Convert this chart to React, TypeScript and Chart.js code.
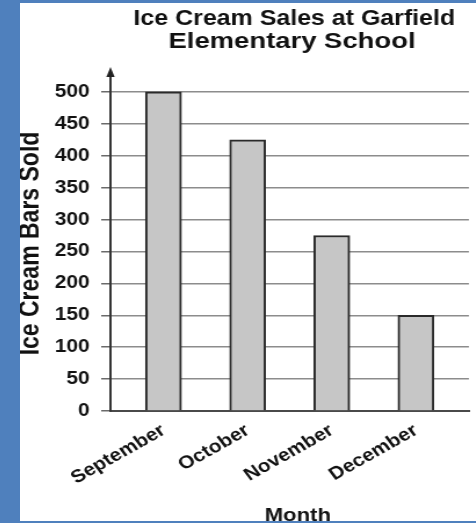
import React, { useEffect, useRef } from "react";
import { Chart, registerables } from "chart.js";

Chart.register(...registerables);

const TITLE_LINES = ["Ice Cream Sales at Garfield", "Elementary School"];
const MONTHS = ["September", "October", "November", "December"];
const SALES = [500, 425, 275, 150];
const Y_TICKS = [0, 50, 100, 150, 200, 250, 300, 350, 400, 450, 500];
const Y_TITLE = "Ice Cream Bars Sold";
const X_TITLE = "Month";

const SX = 1.16; // horizontal stretch of the reference image
const CW = 393;
const CH = 530;
const FONT = '"Liberation Sans", Arial, Helvetica, sans-serif';

const textPlugin = {
  id: "customTexts",
  afterDraw(chart: any) {
    const { ctx, chartArea } = chart;
    const cx = (chartArea.left + chartArea.right) / 2;
    ctx.save();
    ctx.fillStyle = "#111";
    ctx.font = `bold 21.5px ${FONT}`;
    ctx.textAlign = "center";
    ctx.textBaseline = "alphabetic";
    ctx.fillText(TITLE_LINES[0], cx + 4, 25);
    ctx.save();
    ctx.translate(cx + 2, 48);
    ctx.scale(1.1, 1);
    ctx.fillText(TITLE_LINES[1], 0, 0);
    ctx.restore();
    ctx.font = `bold 19px ${FONT}`;
    ctx.fillText(X_TITLE, cx + 7, 521);
    ctx.restore();
  },
};

const arrowPlugin = {
  id: "axisArrow",
  afterDraw(chart: any) {
    const { ctx, chartArea } = chart;
    const x = chartArea.left;
    const top = chartArea.top;
    ctx.save();
    ctx.fillStyle = "#222";
    ctx.beginPath();
    ctx.moveTo(x, top - 9);
    ctx.lineTo(x - 3.6, top + 1);
    ctx.lineTo(x + 3.6, top + 1);
    ctx.closePath();
    ctx.fill();
    ctx.restore();
  },
};

export default function App() {
  const ref = useRef<HTMLCanvasElement | null>(null);

  useEffect(() => {
    if (!ref.current) return;
    const chart = new Chart(ref.current, {
      type: "bar",
      data: {
        datasets: [
          {
            data: SALES.map((y, i) => ({ x: i, y })),
            backgroundColor: "#c6c6c6",
            borderColor: "#2a2a2a",
            borderWidth: 2,
            barThickness: 31,
          },
        ],
      },
      options: {
        animation: false,
        responsive: false,
        events: [],
        layout: { padding: { top: 76, left: 0, right: 6, bottom: 0 } },
        plugins: {
          legend: { display: false },
          title: { display: false },
          tooltip: { enabled: false },
        },
        scales: {
          x: {
            type: "linear",
            min: -0.63,
            max: 3.63,
            bounds: "data",
            offset: false,
            grid: { display: false, offset: false },
            border: { display: true, color: "#4a4a4a", width: 2 },
            afterBuildTicks: (scale: any) => {
              scale.ticks = MONTHS.map((_, i) => ({ value: i }));
            },
            ticks: {
              autoSkip: false,
              minRotation: 33,
              maxRotation: 33,
              padding: 1,
              color: "#111",
              font: { family: FONT, size: 18, weight: "bold" },
              callback: (v: any) => MONTHS[Math.round(Number(v))] ?? "",
            },
            title: { display: false },
            afterFit: (scale: any) => {
              scale.height = CH - 411;
            },
          },
          y: {
            type: "linear",
            min: 0,
            max: 525,
            bounds: "data",
            afterBuildTicks: (scale: any) => {
              scale.ticks = Y_TICKS.map((v) => ({ value: v }));
            },
            grid: {
              color: "#8c8c8c",
              lineWidth: 1.5,
              drawTicks: true,
              tickLength: 8,
              tickColor: "#6a6a6a",
            },
            border: { display: true, color: "#333", width: 2 },
            ticks: {
              autoSkip: false,
              padding: 10,
              color: "#111",
              font: { family: FONT, size: 18, weight: "bold" },
            },
            title: {
              display: true,
              text: Y_TITLE,
              color: "#111",
              font: { family: FONT, size: 23, weight: "bold", lineHeight: 0.85 },
              padding: 0,
            },
            afterFit: (scale: any) => {
              scale.width = 78;
            },
          },
        },
      } as any,
      plugins: [textPlugin, arrowPlugin],
    });
    return () => chart.destroy();
  }, []);

  return (
    <div
      style={{
        position: "fixed",
        left: 0,
        top: 0,
        width: 476,
        height: 523,
        background: "#4f80bd",
      }}
    >
      <div
        style={{
          position: "absolute",
          left: 20,
          top: 3,
          width: 456,
          height: 518,
          background: "#ffffff",
          overflow: "hidden",
        }}
      >
        <canvas
          ref={ref}
          width={CW}
          height={CH}
          style={{
            position: "absolute",
            left: 0,
            top: -3,
            transform: `scaleX(${SX})`,
            transformOrigin: "0 0",
          }}
        />
      </div>
    </div>
  );
}
